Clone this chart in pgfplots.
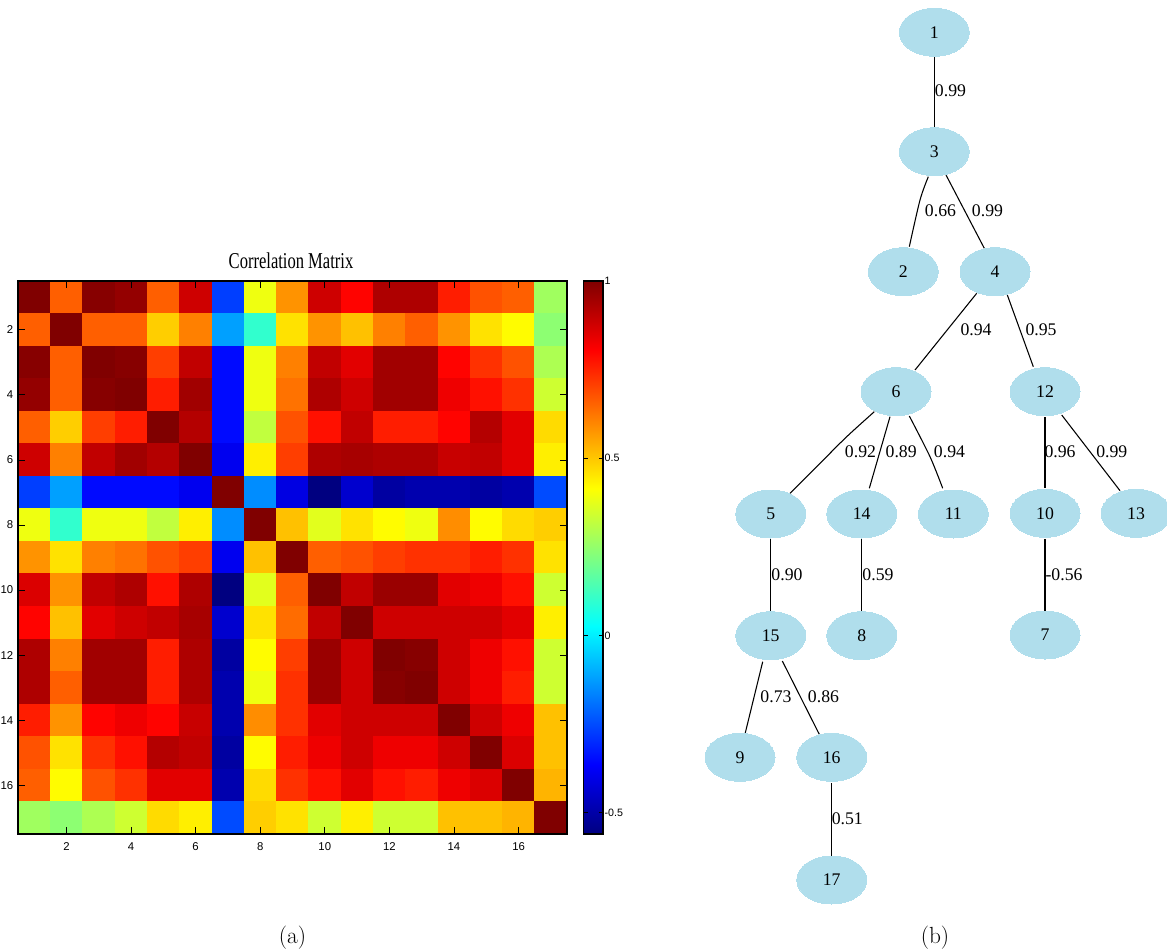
\documentclass[border=0pt]{standalone}
\usepackage{pgfplots}
\pgfplotsset{compat=1.18}
\usepackage{fontspec}
\newfontfamily\tnr{Liberation Serif}
\newfontfamily\hel{Liberation Sans}
\definecolor{nodeblue}{RGB}{176,222,236}
\begin{document}
\begin{tikzpicture}
\useasboundingbox (0,0) rectangle (875.25pt,714pt);
\begin{axis}[
  at={(13.5pt,88.5pt)}, anchor=south west,
  scale only axis, width=411.75pt, height=414.75pt,
  xmin=0.5, xmax=17.5, ymin=0.5, ymax=17.5, y dir=reverse,
  xtick={2,4,...,16}, ytick={2,4,...,16},
  xticklabels={2,4,6,8,10,12,14,16}, yticklabels={2,4,6,8,10,12,14,16},
  ticklabel style={font=\hel\fontsize{8.5}{10}\selectfont},
  xticklabel style={yshift=-3pt},
  major tick length=5pt,
  every tick/.style={black, line width=0.6pt},
  axis line style={black, line width=0.9pt},
  axis on top,
  colormap/jet,
  point meta min=-0.56, point meta max=1,
  colorbar,
  colorbar style={
    at={(parent axis.north east)}, anchor=north west, xshift=4pt,
    scale only axis, width=14.5pt, height=414.75pt,
    ytick={-0.5,0,0.5,1}, yticklabels={-0.5,0,0.5,1},
    ytick pos=both, yticklabel pos=right,
    yticklabel style={font=\hel\fontsize{8}{9}\selectfont, inner sep=1pt},
    major tick length=3pt,
    every tick/.style={black, line width=0.5pt},
    axis line style={black, line width=0.9pt},
  },
]
\addplot[matrix plot*, mesh/cols=17, point meta=explicit] table[row sep=\\, meta=C] {
x y C\\
1 1 1\\ 2 1 0.66\\ 3 1 0.99\\ 4 1 0.97\\ 5 1 0.66\\ 6 1 0.88\\ 7 1 -0.27\\ 8 1 0.39\\ 9 1 0.58\\ 10 1 0.88\\ 11 1 0.80\\ 12 1 0.93\\ 13 1 0.93\\ 14 1 0.76\\ 15 1 0.68\\ 16 1 0.66\\ 17 1 0.27\\
1 2 0.66\\ 2 2 1\\ 3 2 0.66\\ 4 2 0.66\\ 5 2 0.49\\ 6 2 0.61\\ 7 2 -0.12\\ 8 2 0.10\\ 9 2 0.46\\ 10 2 0.58\\ 11 2 0.51\\ 12 2 0.61\\ 13 2 0.66\\ 14 2 0.58\\ 15 2 0.46\\ 16 2 0.42\\ 17 2 0.24\\
1 3 0.99\\ 2 3 0.66\\ 3 3 1\\ 4 3 0.99\\ 5 3 0.71\\ 6 3 0.90\\ 7 3 -0.35\\ 8 3 0.39\\ 9 3 0.61\\ 10 3 0.90\\ 11 3 0.85\\ 12 3 0.95\\ 13 3 0.95\\ 14 3 0.80\\ 15 3 0.73\\ 16 3 0.68\\ 17 3 0.29\\
1 4 0.97\\ 2 4 0.66\\ 3 4 0.99\\ 4 4 1\\ 5 4 0.76\\ 6 4 0.95\\ 7 4 -0.35\\ 8 4 0.39\\ 9 4 0.63\\ 10 4 0.93\\ 11 4 0.88\\ 12 4 0.95\\ 13 4 0.95\\ 14 4 0.83\\ 15 4 0.78\\ 16 4 0.73\\ 17 4 0.34\\
1 5 0.66\\ 2 5 0.49\\ 3 5 0.71\\ 4 5 0.76\\ 5 5 1\\ 6 5 0.92\\ 7 5 -0.35\\ 8 5 0.32\\ 9 5 0.68\\ 10 5 0.78\\ 11 5 0.90\\ 12 5 0.76\\ 13 5 0.76\\ 14 5 0.80\\ 15 5 0.92\\ 16 5 0.85\\ 17 5 0.47\\
1 6 0.88\\ 2 6 0.61\\ 3 6 0.90\\ 4 6 0.95\\ 5 6 0.92\\ 6 6 1\\ 7 6 -0.39\\ 8 6 0.44\\ 9 6 0.71\\ 10 6 0.93\\ 11 6 0.94\\ 12 6 0.93\\ 13 6 0.93\\ 14 6 0.89\\ 15 6 0.90\\ 16 6 0.85\\ 17 6 0.44\\
1 7 -0.27\\ 2 7 -0.12\\ 3 7 -0.35\\ 4 7 -0.35\\ 5 7 -0.35\\ 6 7 -0.39\\ 7 7 1\\ 8 7 -0.15\\ 9 7 -0.41\\ 10 7 -0.56\\ 11 7 -0.44\\ 12 7 -0.51\\ 13 7 -0.49\\ 14 7 -0.49\\ 15 7 -0.51\\ 16 7 -0.49\\ 17 7 -0.25\\
1 8 0.39\\ 2 8 0.10\\ 3 8 0.39\\ 4 8 0.39\\ 5 8 0.32\\ 6 8 0.44\\ 7 8 -0.15\\ 8 8 1\\ 9 8 0.51\\ 10 8 0.37\\ 11 8 0.46\\ 12 8 0.42\\ 13 8 0.39\\ 14 8 0.59\\ 15 8 0.42\\ 16 8 0.47\\ 17 8 0.49\\
1 9 0.58\\ 2 9 0.46\\ 3 9 0.61\\ 4 9 0.63\\ 5 9 0.68\\ 6 9 0.71\\ 7 9 -0.39\\ 8 9 0.51\\ 9 9 1\\ 10 9 0.66\\ 11 9 0.68\\ 12 9 0.71\\ 13 9 0.73\\ 14 9 0.73\\ 15 9 0.76\\ 16 9 0.73\\ 17 9 0.46\\
1 10 0.86\\ 2 10 0.58\\ 3 10 0.90\\ 4 10 0.93\\ 5 10 0.78\\ 6 10 0.93\\ 7 10 -0.56\\ 8 10 0.37\\ 9 10 0.66\\ 10 10 1\\ 11 10 0.90\\ 12 10 0.96\\ 13 10 0.96\\ 14 10 0.85\\ 15 10 0.83\\ 16 10 0.78\\ 17 10 0.34\\
1 11 0.80\\ 2 11 0.51\\ 3 11 0.85\\ 4 11 0.88\\ 5 11 0.90\\ 6 11 0.94\\ 7 11 -0.44\\ 8 11 0.46\\ 9 11 0.64\\ 10 11 0.90\\ 11 11 1\\ 12 11 0.88\\ 13 11 0.88\\ 14 11 0.88\\ 15 11 0.88\\ 16 11 0.85\\ 17 11 0.44\\
1 12 0.93\\ 2 12 0.61\\ 3 12 0.95\\ 4 12 0.95\\ 5 12 0.76\\ 6 12 0.93\\ 7 12 -0.51\\ 8 12 0.42\\ 9 12 0.71\\ 10 12 0.96\\ 11 12 0.88\\ 12 12 1\\ 13 12 0.99\\ 14 12 0.88\\ 15 12 0.83\\ 16 12 0.78\\ 17 12 0.34\\
1 13 0.93\\ 2 13 0.66\\ 3 13 0.95\\ 4 13 0.95\\ 5 13 0.76\\ 6 13 0.93\\ 7 13 -0.49\\ 8 13 0.39\\ 9 13 0.73\\ 10 13 0.96\\ 11 13 0.88\\ 12 13 0.99\\ 13 13 1\\ 14 13 0.88\\ 15 13 0.83\\ 16 13 0.76\\ 17 13 0.34\\
1 14 0.76\\ 2 14 0.58\\ 3 14 0.80\\ 4 14 0.83\\ 5 14 0.80\\ 6 14 0.89\\ 7 14 -0.49\\ 8 14 0.59\\ 9 14 0.73\\ 10 14 0.85\\ 11 14 0.88\\ 12 14 0.88\\ 13 14 0.88\\ 14 14 1\\ 15 14 0.88\\ 16 14 0.83\\ 17 14 0.51\\
1 15 0.68\\ 2 15 0.46\\ 3 15 0.73\\ 4 15 0.78\\ 5 15 0.92\\ 6 15 0.90\\ 7 15 -0.51\\ 8 15 0.42\\ 9 15 0.76\\ 10 15 0.83\\ 11 15 0.88\\ 12 15 0.83\\ 13 15 0.83\\ 14 15 0.88\\ 15 15 1\\ 16 15 0.86\\ 17 15 0.51\\
1 16 0.66\\ 2 16 0.42\\ 3 16 0.68\\ 4 16 0.73\\ 5 16 0.85\\ 6 16 0.85\\ 7 16 -0.49\\ 8 16 0.47\\ 9 16 0.73\\ 10 16 0.78\\ 11 16 0.85\\ 12 16 0.78\\ 13 16 0.76\\ 14 16 0.83\\ 15 16 0.86\\ 16 16 1\\ 17 16 0.53\\
1 17 0.27\\ 2 17 0.24\\ 3 17 0.29\\ 4 17 0.34\\ 5 17 0.47\\ 6 17 0.44\\ 7 17 -0.25\\ 8 17 0.49\\ 9 17 0.46\\ 10 17 0.34\\ 11 17 0.44\\ 12 17 0.34\\ 13 17 0.34\\ 14 17 0.51\\ 15 17 0.51\\ 16 17 0.53\\ 17 17 1\\
};
\end{axis}

\begin{axis}[
  at={(0pt,0pt)}, anchor=south west,
  scale only axis, width=875.25pt, height=714pt,
  xmin=0, xmax=1167, ymin=0, ymax=952, y dir=reverse,
  hide axis, clip=false,
]
\node[font=\tnr\fontsize{17}{20}\selectfont, anchor=base, inner sep=0pt] at (axis cs:291,268.3) {\scalebox{0.73}[1]{Correlation Matrix}};
\node[font=\fontsize{17.5}{20}\selectfont, inner sep=0pt] at (axis cs:292.5,937.5) {(a)};
\node[font=\fontsize{17.5}{20}\selectfont, inner sep=0pt] at (axis cs:935,937.5) {(b)};
% edges
\addplot[black, line width=0.8pt] coordinates {(934.3,56.7) (934.3,127.7)};
\addplot[black, line width=0.8pt, smooth] coordinates {(928.3,176.7) (920,200) (909.3,246.7)};
\addplot[black, line width=0.8pt] coordinates {(946,175) (984.3,248.3)};
\addplot[black, line width=0.8pt] coordinates {(976.7,293.3) (915,370)};
\addplot[black, line width=0.8pt] coordinates {(1006.7,293.3) (1033.3,366.7)};
\addplot[black, line width=0.8pt, smooth] coordinates {(874.3,411.7) (846.7,436.7) (820,463.3) (790,493.3)};
\addplot[black, line width=0.8pt] coordinates {(890,416.7) (869.3,488.3)};
\addplot[black, line width=0.8pt, smooth] coordinates {(909.3,416) (930,456.7) (942.7,488.3)};
\addplot[black, line width=0.8pt] coordinates {(1045,417.3) (1045,488.3)};
\addplot[black, line width=0.8pt] coordinates {(1061.7,415) (1120,490.7)};
\addplot[black, line width=0.8pt] coordinates {(770.7,538) (770.7,611.7)};
\addplot[black, line width=0.8pt] coordinates {(861.7,539) (861.7,611.7)};
\addplot[black, line width=0.8pt] coordinates {(1045,539) (1045,611)};
\addplot[black, line width=0.8pt] coordinates {(762.7,661.7) (745,734)};
\addplot[black, line width=0.8pt] coordinates {(782.3,661) (819.3,734.3)};
\addplot[black, line width=0.8pt] coordinates {(831.7,783.3) (831.7,856)};
% nodes
\addplot[color=nodeblue, only marks, mark=*, mark size=18pt,
  mark options={xscale=1.4583, fill=nodeblue, draw=nodeblue, line width=0pt},
  point meta=explicit symbolic, nodes near coords,
  every node near coord/.append style={anchor=center, text=black, inner sep=0pt,
    font=\tnr\fontsize{13.3}{15}\selectfont}]
  table[meta=label] {
x y label
934.3 32.3 1
934.3 151.7 3
903.3 271.7 2
995 271.7 4
896 391.7 6
1045 391.7 12
770.7 514 5
861.7 514 14
953.3 514 11
1045 513.3 10
1136 513.3 13
770.7 635.7 15
861.7 635.7 8
1045 635 7
740 757.3 9
831.7 757.3 16
831.7 880 17
};
% edge labels
\addplot[color=white, only marks, mark=*, mark size=0pt,
  mark options={draw=none, fill=none},
  point meta=explicit symbolic, nodes near coords,
  every node near coord/.append style={anchor=center, text=black, inner sep=0pt,
    font=\tnr\fontsize{13.3}{15}\selectfont}]
  table[meta=label] {
x y label
950.5 91 0.99
940.5 210.7 0.66
987.5 210.7 0.99
976 330 0.94
1041 330 0.95
860.5 451.7 0.92
901.2 451.7 0.89
949.5 451.7 0.94
1060 452 0.96
1111.8 452 0.99
1064 574.5 -0.56
787 575 0.90
878 575 0.59
776 696.7 0.73
823.5 696.7 0.86
847.3 818.3 0.51
};
\end{axis}
\end{tikzpicture}
\end{document}
